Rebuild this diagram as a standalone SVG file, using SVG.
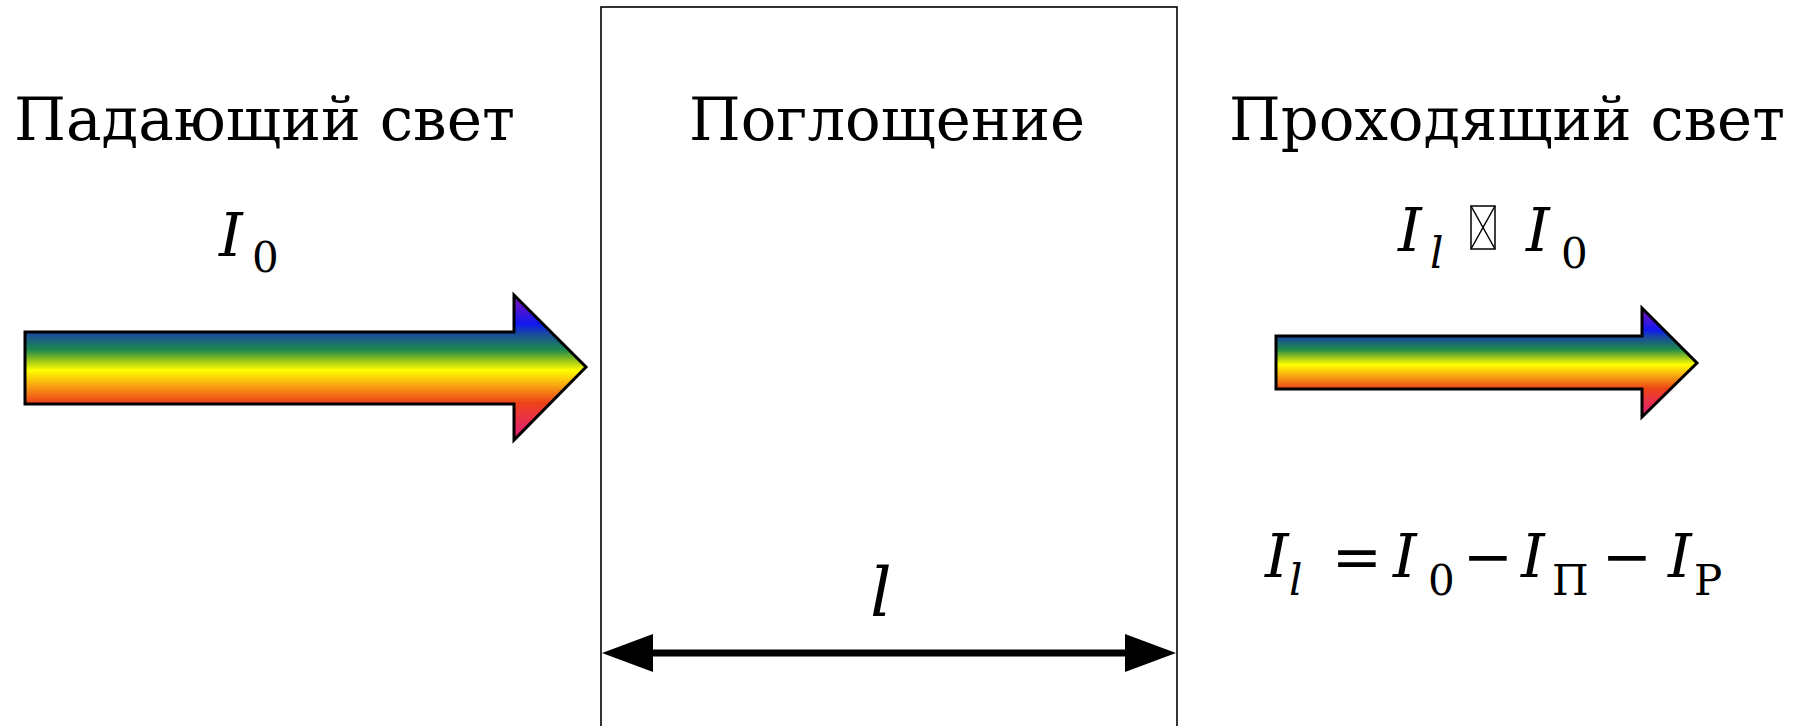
<svg xmlns="http://www.w3.org/2000/svg" width="1806" height="726" viewBox="0 0 1806 726">
<defs>
<linearGradient id="rainbow" x1="0" y1="0" x2="0" y2="1">
<stop offset="0" stop-color="#8a10b8"/>
<stop offset="0.2" stop-color="#1018f0"/>
<stop offset="0.27" stop-color="#1a4c9c"/>
<stop offset="0.38" stop-color="#1e8a4a"/>
<stop offset="0.46" stop-color="#a8cc18"/>
<stop offset="0.52" stop-color="#ffff00"/>
<stop offset="0.62" stop-color="#f8a810"/>
<stop offset="0.74" stop-color="#ee4418"/>
<stop offset="0.86" stop-color="#e8304a"/>
<stop offset="1" stop-color="#e01a80"/>
</linearGradient>
<style>
text{font-family:'DejaVu Serif','Liberation Serif',serif;fill:#000}
.lbl{font-size:60px}
.mi{font-size:60px;font-style:italic}
.mr{font-size:60px}
.sub{font-size:42px}
.subi{font-size:42px;font-style:italic}
.beam{fill:url(#rainbow);stroke:#000;stroke-width:3;stroke-linejoin:miter}
</style>
</defs>

<g id="sample">
<rect x="601" y="7" width="576" height="730" fill="none" stroke="#000" stroke-width="1.6"/>
<text class="lbl" x="689" y="140" textLength="396" lengthAdjust="spacingAndGlyphs">Поглощение</text>
</g>

<g id="incident">
<text class="lbl" x="14" y="140" textLength="501" lengthAdjust="spacingAndGlyphs">Падающий свет</text>
<text class="mi" x="219" y="256">I</text>
<text class="sub" x="252" y="272">0</text>
<path class="beam" d="M25,332 H514 V295 L586,367 L514,440 V404 H25 Z"/>
</g>

<g id="transmitted">
<text class="lbl" x="1229" y="140" textLength="556" lengthAdjust="spacingAndGlyphs">Проходящий свет</text>
<text class="mi" x="1398" y="251">I</text>
<text class="subi" x="1430" y="268">l</text>
<g fill="none" stroke="#000" stroke-width="1.5">
<rect x="1471" y="206" width="24" height="43"/>
<path d="M1471,206 L1495,249 M1495,206 L1471,249"/>
</g>
<text class="mi" x="1526" y="251">I</text>
<text class="sub" x="1561" y="268">0</text>
<path class="beam" d="M1276,336 H1642 V308 L1697,363 L1642,417 V389 H1276 Z"/>
</g>

<g id="formula">
<text class="mi" x="1265" y="577">I</text>
<text class="subi" x="1289" y="595">l</text>
<text class="mr" x="1357" y="577" text-anchor="middle">=</text>
<text class="mi" x="1393" y="577">I</text>
<text class="sub" x="1428" y="595">0</text>
<text class="mr" x="1488" y="577" text-anchor="middle">−</text>
<text class="mi" x="1521" y="577">I</text>
<text class="sub" x="1552" y="595">П</text>
<text class="mr" x="1627" y="577" text-anchor="middle">−</text>
<text class="mi" x="1668" y="577">I</text>
<text class="sub" x="1694" y="595">Р</text>
</g>

<g id="connectors">
<line x1="650" y1="653" x2="1128" y2="653" stroke="#000" stroke-width="7"/>
<polygon points="602,653 653,634 653,672" fill="#000"/>
<polygon points="1176,653 1125,634 1125,672" fill="#000"/>
<text class="mi" x="870" y="616" style="font-size:68px">l</text>
</g>
</svg>
